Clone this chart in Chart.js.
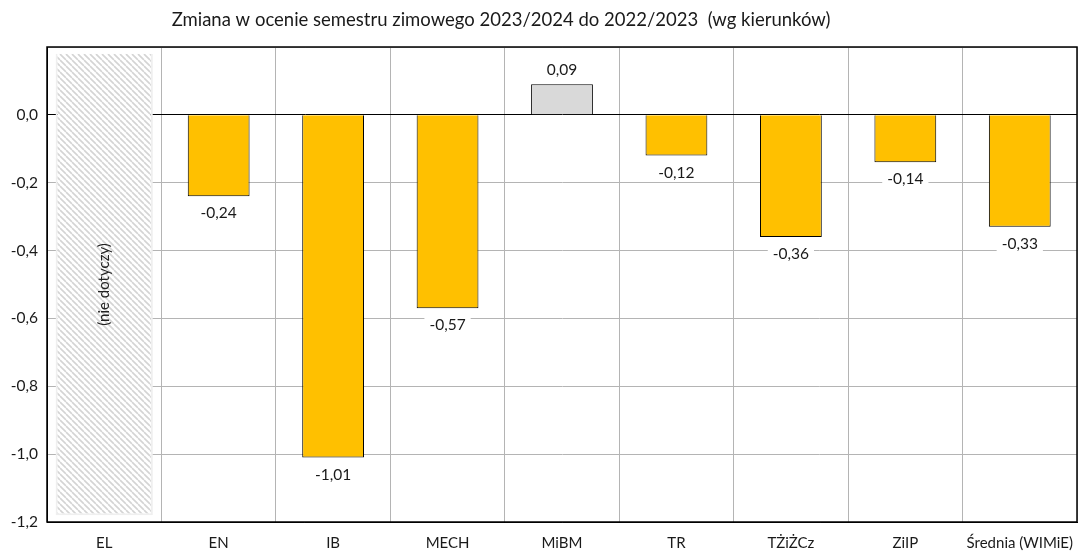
<!DOCTYPE html>
<html>
<head>
<meta charset="utf-8">
<script src="https://cdn.jsdelivr.net/npm/chart.js@4.4.1/dist/chart.umd.min.js"></script>
<style>
  html, body { margin: 0; padding: 0; background: #fff; }
  #wrap { width: 1081px; height: 553px; }
</style>
</head>
<body>
<div id="wrap"><canvas id="chart" width="1081" height="553"></canvas></div>
<script>
// dane
const categories = ['EL', 'EN', 'IB', 'MECH', 'MiBM', 'TR', 'TŻiŻCz', 'ZiIP', 'Średnia (WIMiE)'];
const changes = [null, -0.24, -1.01, -0.57, 0.09, -0.12, -0.36, -0.14, -0.33];
const naRange = [-1.18, 0.18];   // zakreskowany obszar dla EL
const naLabel = '(nie dotyczy)';
const yTicks = [-1.2, -1.0, -0.8, -0.6, -0.4, -0.2, 0.0];
const titleText = 'Zmiana w ocenie semestru zimowego 2023/2024 do 2022/2023  (wg kierunków)';

const FONT = 'Lato, "Open Sans", sans-serif';
const TEXT = '#1a1a1a';

// wzór kreskowania
function hatch() {
    const c = document.createElement('canvas');
    c.width = 6; c.height = 6;
    const g = c.getContext('2d');
    g.fillStyle = '#ffffff';
    g.fillRect(0, 0, 6, 6);
    g.strokeStyle = '#d4d4d4';
    g.lineWidth = 1.6;
    g.beginPath();
    for (let k = -6; k <= 12; k += 6) {
        g.moveTo(k, 0);
        g.lineTo(k + 6, 6);
    }
    g.stroke();
    return g.createPattern(c, 'repeat');
}

const fmt = v => v.toFixed(2).replace('.', ',');

// ramka + etykiety + tytuł
const extras = {
    id: 'extras',
    afterDatasetsDraw(chart) {
        const ctx = chart.ctx;
        const a = chart.chartArea;
        ctx.save();

        // etykiety słupków
        ctx.font = '15.5px ' + FONT;
        ctx.textAlign = 'center';
        ctx.textBaseline = 'middle';
        const meta = chart.getDatasetMeta(0);
        meta.data.forEach((bar, i) => {
            const v = changes[i];
            if (v === null) return;
            const t = fmt(v);
            const y = v < 0 ? bar.y + 17 : bar.y - 14;
            const w = ctx.measureText(t).width + 10;
            ctx.fillStyle = '#fff';
            ctx.fillRect(bar.x - w / 2, y - 9, w, 18);
            ctx.fillStyle = TEXT;
            ctx.fillText(t, bar.x, y);
        });

        // napis w zakreskowanym polu
        const na = chart.getDatasetMeta(1).data[0];
        ctx.translate(na.x, (na.y + na.base) / 2);
        ctx.rotate(-Math.PI / 2);
        ctx.fillStyle = '#222';
        ctx.font = '15px ' + FONT;
        ctx.fillText(naLabel, 0, 0);
        ctx.restore();

        // ramka obszaru wykresu
        ctx.save();
        ctx.strokeStyle = '#000';
        ctx.lineWidth = 1.5;
        ctx.strokeRect(a.left, a.top, a.right - a.left, a.bottom - a.top);
        ctx.restore();

        // tytuł
        ctx.save();
        ctx.font = '18.5px ' + FONT;
        ctx.fillStyle = TEXT;
        ctx.textAlign = 'center';
        ctx.textBaseline = 'middle';
        ctx.fillText(titleText, 501, 20);
        ctx.restore();
    }
};

new Chart(document.getElementById('chart'), {
    type: 'bar',
    data: {
        labels: categories,
        datasets: [
            {
                data: changes,
                backgroundColor: changes.map(v => v !== null && v > 0 ? '#d9d9d9' : '#ffc000'),
                borderColor: '#000',
                borderWidth: 1,
                barPercentage: 0.54,
                categoryPercentage: 1,
                grouped: false,
                order: 1
            },
            {
                data: categories.map((c, i) => i === 0 ? naRange : null),
                backgroundColor: hatch(),
                borderColor: '#efefef',
                borderWidth: 2,
                barPercentage: 0.85,
                categoryPercentage: 1,
                grouped: false,
                order: 2
            }
        ]
    },
    options: {
        responsive: false,
        animation: false,
        layout: { padding: { top: 47, right: 4, left: 0, bottom: 0 } },
        plugins: {
            legend: { display: false },
            title: { display: false },
            tooltip: { enabled: false }
        },
        scales: {
            x: {
                offset: true,
                grid: { offset: true, color: '#b4b4b4', drawTicks: false },
                border: { color: '#000' },
                ticks: {
                    color: TEXT,
                    font: { family: FONT, size: 15 },
                    padding: 12,
                    maxRotation: 0,
                    minRotation: 0,
                    autoSkip: false
                },
                afterFit: s => {
                    s.height = 31;
                    s.paddingLeft = 0;
                    s.paddingRight = 0;
                }
            },
            y: {
                min: -1.2,
                max: 0.2,
                grid: {
                    color: c => c.tick && Math.abs(c.tick.value) < 1e-9 ? '#000' : '#b4b4b4',
                    drawTicks: false
                },
                border: { color: '#000' },
                afterBuildTicks: s => {
                    s.ticks = yTicks.concat([0.2]).map(v => ({ value: v }));
                },
                ticks: {
                    color: TEXT,
                    font: { family: FONT, size: 15.5 },
                    padding: 9,
                    callback: v => v > 0.1 ? '' : v.toFixed(1).replace('.', ',')
                },
                afterFit: s => { s.width = 47; }
            }
        }
    },
    plugins: [extras]
});
</script>
</body>
</html>
